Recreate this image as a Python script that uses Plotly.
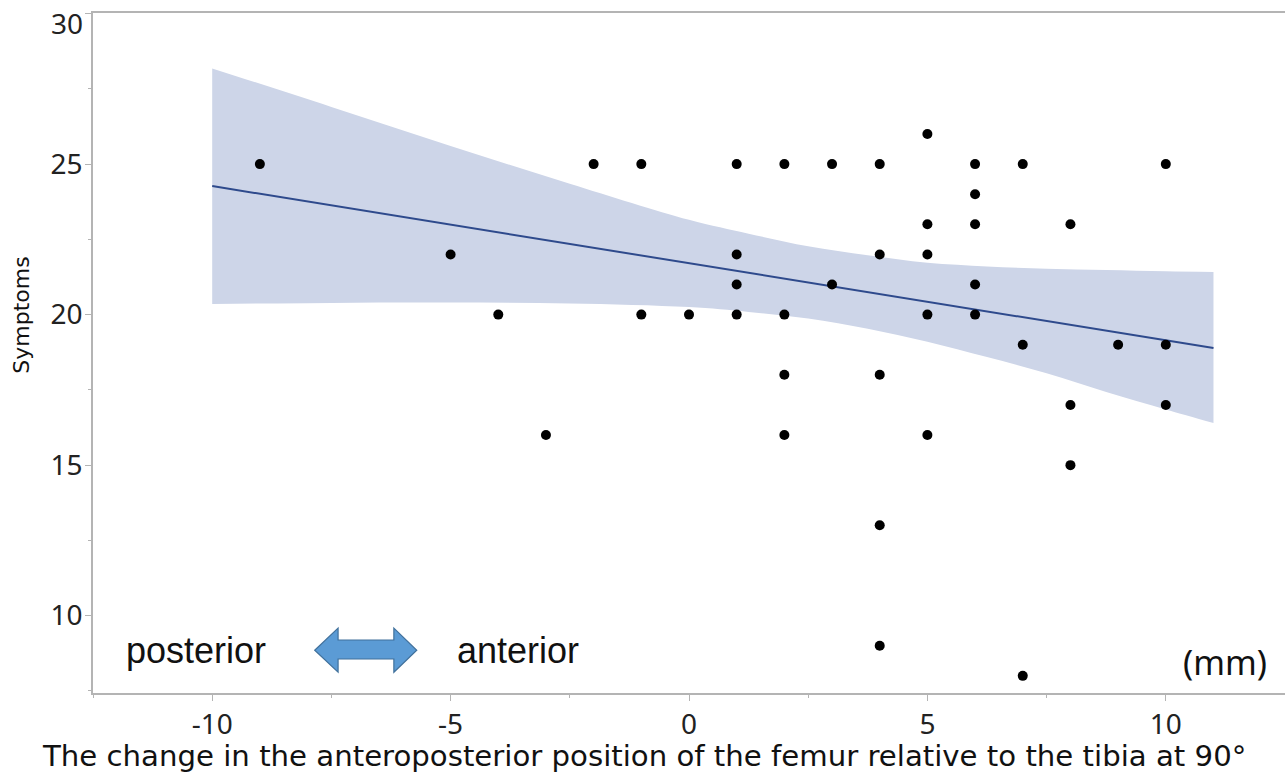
import plotly.graph_objects as go

# ---- data ----
pts_x = [-9, -5, -4, -3, -2, -1, -1, 0, 1, 1, 1, 1, 2, 2, 2, 2, 3, 3,
         4, 4, 4, 4, 4, 5, 5, 5, 5, 5, 6, 6, 6, 6, 6, 7, 7, 7,
         8, 8, 8, 9, 10, 10, 10]
pts_y = [25, 22, 20, 16, 25, 25, 20, 20, 25, 22, 21, 20, 25, 20, 18, 16, 25, 21,
         25, 22, 18, 13, 9, 26, 23, 22, 20, 16, 25, 24, 23, 21, 20, 25, 19, 8,
         23, 17, 15, 19, 25, 19, 17]

fit_x = [-10, 11]
fit_y = [24.27, 18.89]

band_x = [-10, -7.5, -5, -2.5, 0, 1.25, 2.5, 3.75, 5, 6.25, 7.5, 8.75, 10, 11]
band_upper = [28.18, 26.9, 25.6, 24.35, 23.15, 22.69, 22.27, 21.97, 21.72, 21.6, 21.52, 21.48, 21.44, 21.42]
band_lower = [20.35, 20.39, 20.40, 20.37, 20.25, 20.09, 19.87, 19.53, 19.10, 18.59, 18.05, 17.43, 16.85, 16.40]

x_ticks = [-10, -5, 0, 5, 10]
y_ticks = [10, 15, 20, 25, 30]
y_ticktext = ["10", "15", "20", "25", ""]   # top label "30" is drawn shifted down, as in the reference
y_top_label = "30"

TICK_FONT = dict(family="Noto Sans", size=28, color="#222222")
AXIS_GRAY = "#b4b4b4"

fig = go.Figure()

fig.add_trace(go.Scatter(x=band_x, y=band_lower, mode="lines", line=dict(width=0, shape="spline"),
                         hoverinfo="skip", showlegend=False))
fig.add_trace(go.Scatter(x=band_x, y=band_upper, mode="lines", line=dict(width=0, shape="spline"),
                         fill="tonexty", fillcolor="rgb(205,213,232)", hoverinfo="skip", showlegend=False))
fig.add_trace(go.Scatter(x=fit_x, y=fit_y, mode="lines", line=dict(color="rgb(46,74,140)", width=2),
                         showlegend=False))
fig.add_trace(go.Scatter(x=pts_x, y=pts_y, mode="markers",
                         marker=dict(color="#000000", size=10), showlegend=False))

# double-headed arrow (decoration) in data coordinates
ax0, ax1, ah0, ah1 = -7.85, -5.71, -7.36, -6.19
ayt, ayb, ast, asb, aym = 9.585, 8.12, 9.19, 8.56, 8.85
arrow_path = (f"M {ax0},{aym} L {ah0},{ayt} L {ah0},{ast} L {ah1},{ast} L {ah1},{ayt} "
              f"L {ax1},{aym} L {ah1},{ayb} L {ah1},{asb} L {ah0},{asb} L {ah0},{ayb} Z")
fig.add_shape(type="path", path=arrow_path, xref="x", yref="y",
              fillcolor="rgb(91,155,213)", line=dict(color="rgb(65,113,156)", width=1.2))

fig.add_annotation(x=-10.35, y=8.85, xref="x", yref="y", text="posterior", showarrow=False,
                   font=dict(family="Liberation Sans", size=36, color="#111111"),
                   xanchor="center", yanchor="middle")
fig.add_annotation(x=-3.59, y=8.85, xref="x", yref="y", text="anterior", showarrow=False,
                   font=dict(family="Liberation Sans", size=36, color="#111111"),
                   xanchor="center", yanchor="middle")
fig.add_annotation(x=11.25, y=8.45, xref="x", yref="y", text="(mm)", showarrow=False,
                   font=dict(family="Noto Sans", size=34, color="#111111"),
                   xanchor="center", yanchor="middle")

fig.add_annotation(x=0, y=1, xref="paper", yref="paper", text=y_top_label, showarrow=False,
                   font=TICK_FONT, xanchor="right", yanchor="middle", xshift=-8, yshift=-10)

fig.add_annotation(x=0.4622, y=-0.092, xref="paper", yref="paper",
                   text="The change in the anteroposterior position of the femur relative to the tibia at 90°",
                   showarrow=False, font=dict(family="DejaVu Sans", size=29.2, color="#111111"),
                   xanchor="center", yanchor="middle")
fig.add_annotation(x=-0.0595, y=0.555, xref="paper", yref="paper", text="Symptoms", textangle=-90,
                   showarrow=False, font=dict(family="DejaVu Sans", size=22, color="#111111"),
                   xanchor="center", yanchor="middle")

fig.update_xaxes(range=[-12.5, 12.5], tickvals=x_ticks, ticktext=[str(v) for v in x_ticks],
                 ticks="outside", ticklen=6, tickcolor=AXIS_GRAY, tickwidth=1,
                 minor=dict(tickvals=[-12.5, -7.5, -2.5, 2.5, 7.5, 12.5], ticks="outside",
                            ticklen=3, tickcolor=AXIS_GRAY),
                 showline=True, linecolor=AXIS_GRAY, linewidth=1.5, mirror=True,
                 showgrid=False, zeroline=False, tickfont=TICK_FONT)
fig.update_yaxes(range=[7.43, 30.02], tickvals=y_ticks, ticktext=y_ticktext,
                 ticks="outside", ticklen=6, tickcolor=AXIS_GRAY, tickwidth=1,
                 ticklabelstandoff=-3,
                 minor=dict(tickvals=[7.5, 12.5, 17.5, 22.5, 27.5], ticks="outside",
                            ticklen=3, tickcolor=AXIS_GRAY),
                 showline=True, linecolor=AXIS_GRAY, linewidth=1.5,
                 showgrid=False, zeroline=False, tickfont=TICK_FONT)

fig.update_layout(width=1285, height=776, margin=dict(l=93, r=0, t=13, b=83),
                  plot_bgcolor="white", paper_bgcolor="white", showlegend=False)

fig.write_html("out.html")
